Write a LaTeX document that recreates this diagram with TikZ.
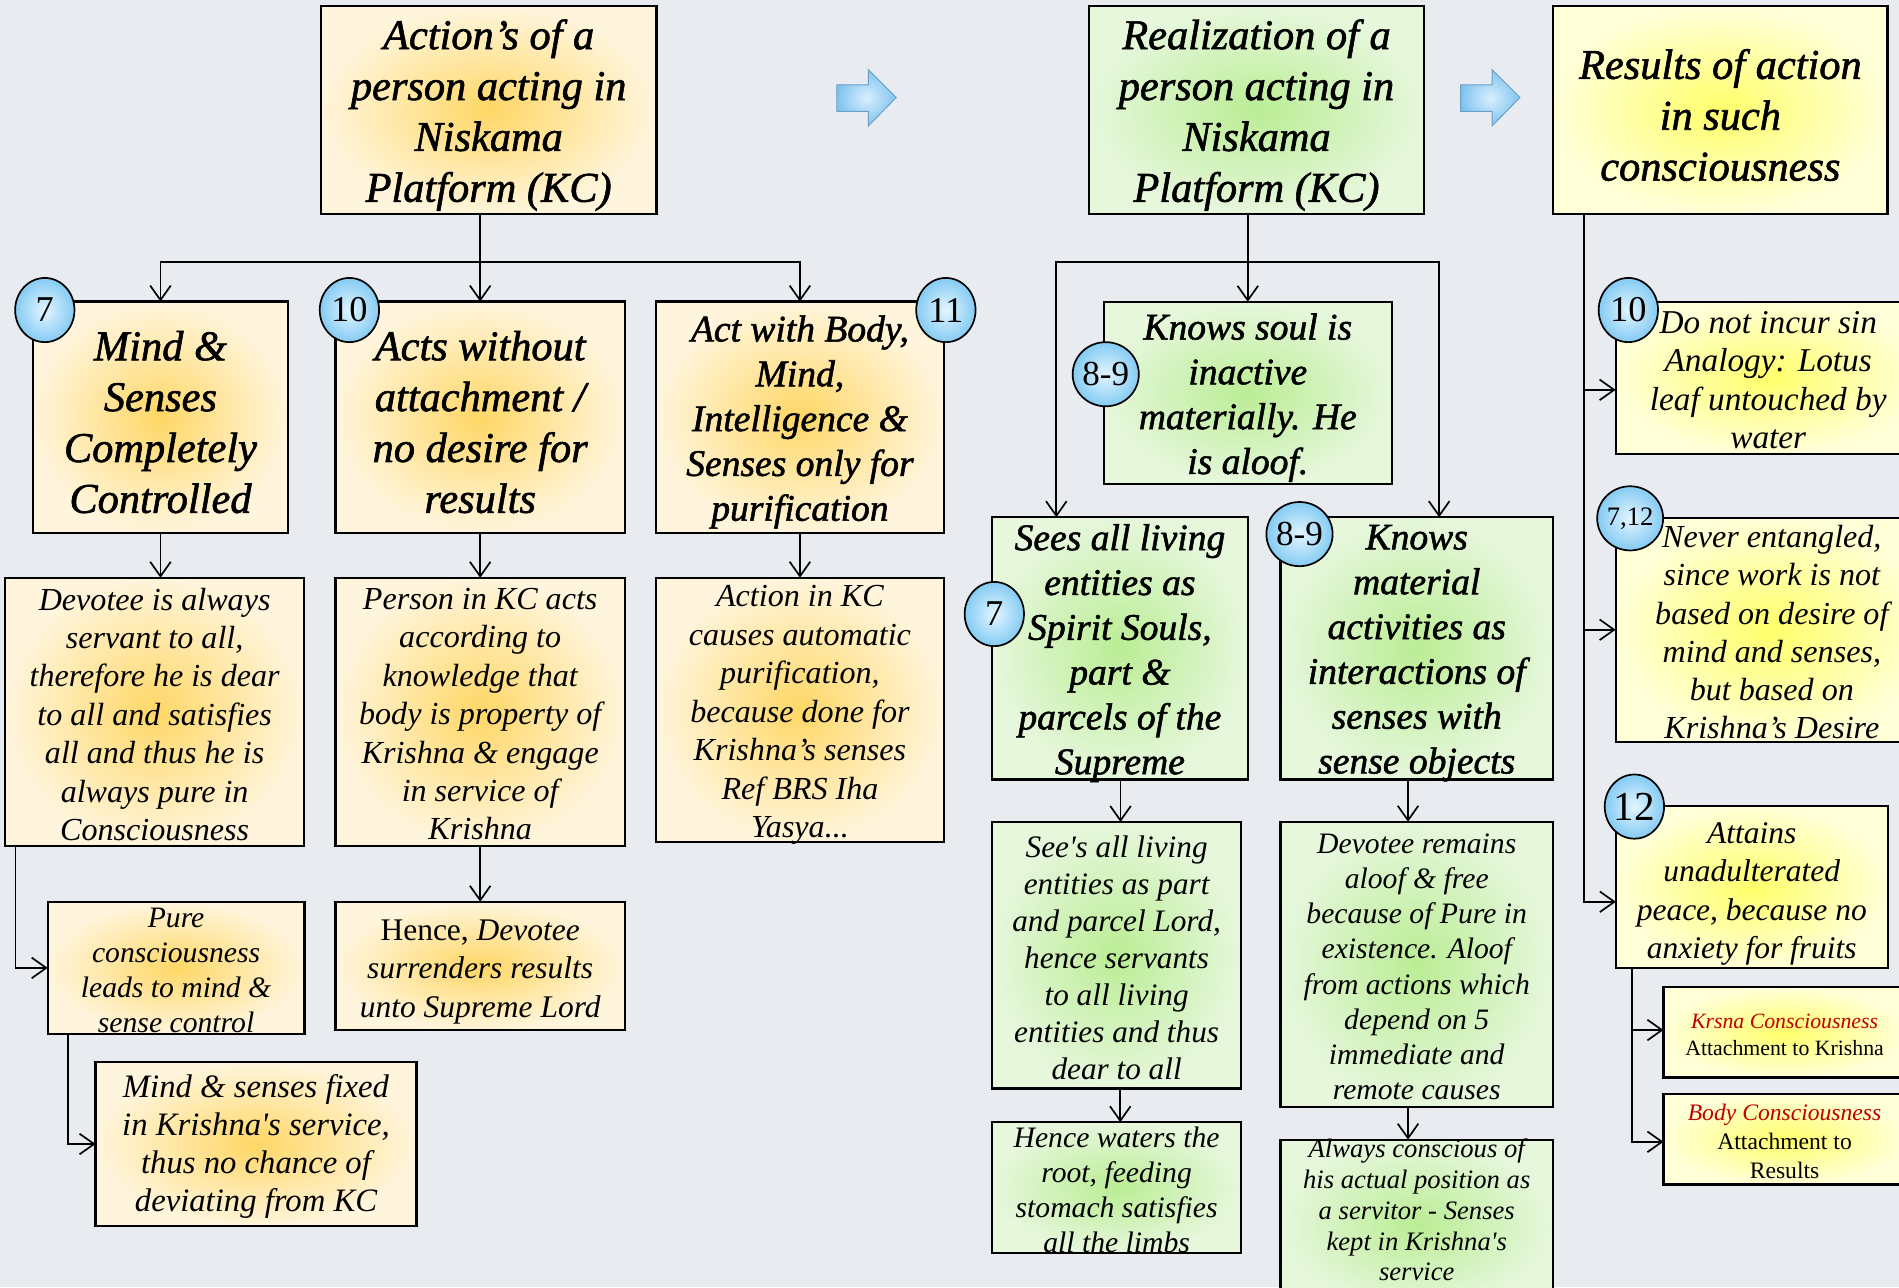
\documentclass[tikz,border=0pt]{standalone}
\usepackage{fontspec}
\setmainfont{Liberation Serif}
\newfontfamily\hdfont{Liberation Serif}[FakeBold=1.4]
\usetikzlibrary{arrows.meta,shapes.geometric}
\definecolor{bgc}{HTML}{E8EBEF}
\definecolor{oin}{HTML}{FFD766}
\definecolor{oout}{HTML}{FFF5DC}
\definecolor{gin}{HTML}{BAED94}
\definecolor{gout}{HTML}{E6F7DC}
\definecolor{yin}{HTML}{FFFF6A}
\definecolor{yout}{HTML}{FFFFD8}
\definecolor{bin}{HTML}{E4F5FF}
\definecolor{bout}{HTML}{84CBF3}
\definecolor{ain}{HTML}{D8EFFD}
\definecolor{aout}{HTML}{80C3EF}
\definecolor{aline}{HTML}{6C9FC6}
\definecolor{kred}{HTML}{C00000}
\newcommand{\fHd}{\hdfont\itshape\fontsize{35}{42}\selectfont}
\newcommand{\fMd}{\hdfont\itshape\fontsize{31}{37}\selectfont}
\newcommand{\fNm}[2]{\itshape\fontsize{#1}{#2}\selectfont}
\newcommand{\sq}{\textquotesingle}
\tikzset{
  bx/.style={draw=black, line width=1.8pt, inner sep=0pt, outer sep=0pt},
  obox/.style={bx, inner color=oin, outer color=oout},
  gbox/.style={bx, inner color=gin, outer color=gout},
  ybox/.style={bx, inner color=yin, outer color=yout},
  tx/.style={align=center, inner sep=0pt, text=black, yshift=-2pt},
  btx/.style={tx, yshift=-2pt},
  badge/.style={ellipse, draw=black, line width=1.4pt, inner sep=0pt,
    minimum width=49pt, minimum height=53pt, inner color=bin, outer color=bout,
    font=\fontsize{30}{30}\selectfont},
  con/.style={draw=black, line width=1.4pt},
  arr/.style={con, -{Straight Barb[length=12pt,width=17pt]}},
  blk/.style={draw=aline, line width=0.8pt, inner color=ain, outer color=aout},
}
\begin{document}
\begin{tikzpicture}[x=1pt,y=-1pt]
\useasboundingbox (0,0) rectangle (1568,1063);
\clip (0,0) rectangle (1568,1063);
\fill[bgc] (0,0) rectangle (1568,1063);

% ---------- headers
\node[obox, minimum width=277pt, minimum height=172pt] (H1) at (403.5,91) {};
\node[btx, font=\fHd] (H1t) at (H1) {Action’s of a\\person acting in\\Niskama\\Platform (KC)};
\node[gbox, minimum width=276pt, minimum height=172pt] (H2) at (1037.5,91) {};
\node[btx, font=\fHd] (H2t) at (H2) {Realization of a\\person acting in\\Niskama\\Platform (KC)};
\node[ybox, minimum width=276pt, minimum height=172pt] (H3) at (1420.5,91) {};
\node[btx, font=\fHd] (H3t) at (H3) {Results of action\\in such\\consciousness};

% block arrows
\draw[blk] (691,70) -- (717,70) -- (717,57.5) -- (740,80.5) -- (717,104) -- (717,92) -- (691,92) -- cycle;
\draw[blk] (1206,70) -- (1232,70) -- (1232,57.5) -- (1255,80.5) -- (1232,104) -- (1232,92) -- (1206,92) -- cycle;

% ---------- column 1
\node[obox, minimum width=211pt, minimum height=191pt] (A) at (132.5,344.5) {};
\node[btx, font=\fHd] (At) at (A) {Mind \&\\Senses\\Completely\\Controlled};
\node[obox, minimum width=239pt, minimum height=191pt] (B) at (396.5,344.5) {};
\node[btx, font=\fHd] (Bt) at (B) {Acts without\\attachment /\\no desire for\\results};
\node[obox, minimum width=238pt, minimum height=191pt] (C) at (660.5,344.5) {};
\node[btx, font=\fMd] (Ct) at (C) {Act with Body,\\Mind,\\Intelligence \&\\Senses only for\\purification};

\node[obox, minimum width=247pt, minimum height=221.5pt] (A2) at (127.7,587.8) {};
\node[tx, font=\fNm{26.5}{31.7}] (A2t) at (A2) {Devotee is always\\servant to all,\\therefore he is dear\\to all and satisfies\\all and thus he is\\always pure in\\Consciousness};
\node[obox, minimum width=239pt, minimum height=221.5pt] (B2) at (396.5,587.8) {};
\node[tx, font=\fNm{26.5}{31.7}] (B2t) at (B2) {Person in KC acts\\according to\\knowledge that\\body is property of\\Krishna \& engage\\in service of\\Krishna};
\node[obox, minimum width=238pt, minimum height=218pt] (C2) at (660.5,586) {};
\node[tx, font=\fNm{26.5}{31.8}, yshift=-2.5pt] (C2t) at (C2) {Action in KC\\causes automatic\\purification,\\because done for\\Krishna’s senses\\Ref BRS Iha\\Yasya...};

\node[obox, minimum width=212pt, minimum height=109pt] (A3) at (145.4,799.2) {};
\node[tx, font=\fNm{24.5}{29}] (A3t) at (A3) {Pure\\consciousness\\leads to mind \&\\sense control};
\node[obox, minimum width=239pt, minimum height=106pt] (B3) at (396.5,797.6) {};
\node[tx, font=\fNm{26}{31.5}, yshift=-3pt] (B3t) at (B3) {{\upshape Hence,} Devotee\\surrenders results\\unto Supreme Lord};
\node[obox, minimum width=265pt, minimum height=136pt] (A4) at (211.4,944.6) {};
\node[tx, font=\fNm{27}{31.5}] (A4t) at (A4) {Mind \& senses fixed\\in Krishna\sq s service,\\thus no chance of\\deviating from KC};

% ---------- column 2
\node[gbox, minimum width=238pt, minimum height=150.4pt] (D) at (1030.3,324.4) {};
\node[btx, font=\fMd] (Dt) at (D) {Knows soul is\\inactive\\materially. He\\is aloof.};
\node[gbox, minimum width=211pt, minimum height=216.5pt] (E) at (924.7,535.3) {};
\node[btx, font=\fMd] (Et) at (E) {Sees all living\\entities as\\Spirit Souls,\\part \&\\parcels of the\\Supreme};
\node[gbox, minimum width=225pt, minimum height=216.5pt] (F) at (1169.8,535.3) {};
\node[btx, font=\fMd] (Ft) at (F) {Knows\\material\\activities as\\interactions of\\senses with\\sense objects};

\node[gbox, minimum width=206pt, minimum height=220pt] (E2) at (922,788.7) {};
\node[tx, font=\fNm{25.8}{30.5}] (E2t) at (E2) {See\sq s all living\\entities as part\\and parcel Lord,\\hence servants\\to all living\\entities and thus\\dear to all};
\node[gbox, minimum width=206pt, minimum height=108pt] (E3) at (922,980.6) {};
\node[tx, font=\fNm{24.5}{29}] (E3t) at (E3) {Hence waters the\\root, feeding\\stomach satisfies\\all the limbs};
\node[gbox, minimum width=225pt, minimum height=235.5pt] (F2) at (1169.8,796.3) {};
\node[tx, font=\fNm{24.5}{29}] (F2t) at (F2) {Devotee remains\\aloof \& free\\because of Pure in\\existence. Aloof\\from actions which\\depend on 5\\immediate and\\remote causes};
\node[gbox, minimum width=225pt, minimum height=140pt] (F3) at (1169.8,1011) {};
\node[tx, font=\fNm{22}{25.5}] (F3t) at (1169.8,997) {Always conscious of\\his actual position as\\a servitor - Senses\\kept in Krishna\sq s\\service};

% ---------- column 3
\node[ybox, minimum width=252pt, minimum height=125.4pt] (G) at (1460,311.9) {};
\node[tx, font=\fNm{27.5}{31.6}] (Gt) at (G) {Do not incur sin\\Analogy: Lotus\\leaf untouched by\\water};
\node[ybox, minimum width=258pt, minimum height=185pt] (H) at (1463,520) {};
\node[tx, font=\fNm{26.5}{31.6}] (Ht) at (H) {Never entangled,\\since work is not\\based on desire of\\mind and senses,\\but based on\\Krishna’s Desire};
\node[ybox, minimum width=224.4pt, minimum height=134pt] (I) at (1446.4,732.3) {};
\node[tx, font=\fNm{26}{31.7}, yshift=-4pt] (It) at (I) {Attains\\unadulterated\\peace, because no\\anxiety for fruits};
\node[ybox, minimum width=200pt, minimum height=74.5pt] (J) at (1473.5,852.5) {};
\node[tx, font=\fontsize{18}{21.7}\selectfont] (Jt) at (J) {{\color{kred}\itshape Krsna Consciousness}\\Attachment to Krishna};
\node[ybox, minimum width=200pt, minimum height=74.5pt] (K) at (1473.5,940.8) {};
\node[tx, font=\fontsize{19.5}{24}\selectfont] (Kt) at (K) {{\color{kred}\itshape Body Consciousness}\\Attachment to\\Results};

% ---------- connectors, tree 1
\coordinate (j1) at (396.5,216.2);
\draw[con] (B.north |- H1.south) -- (j1);
\draw[arr] (j1) -| (A.north);
\draw[arr] (j1) -- (B.north);
\draw[arr] (j1) -| (C.north);
\draw[arr] (A.south) -- (A.south |- A2.north);
\draw[arr] (B.south) -- (B2.north);
\draw[arr] (C.south) -- (C2.north);
\draw[arr] (B2.south) -- (B3.north);
\coordinate (a2o) at ([xshift=8.6pt]A2.south west);
\draw[arr] (a2o) |- (A3.west);
\coordinate (a3o) at ([xshift=17pt]A3.south west);
\draw[arr] (a3o) |- (A4.west);

% tree 2
\coordinate (j2) at (1030.3,216.2);
\draw[con] (D.north |- H2.south) -- (j2);
\draw[arr] (j2) -- (D.north);
\coordinate (eN) at ([xshift=53pt]E.north west);
\draw[arr] (j2) -| (eN);
\coordinate (fN) at ([xshift=131pt]F.north west);
\draw[arr] (j2) -| (fN);
\coordinate (eS) at ([xshift=106pt]E.south west);
\draw[arr] (eS) -- (eS |- E2.north);
\coordinate (e2S) at ([xshift=106pt]E2.south west);
\draw[arr] (e2S) -- (e2S |- E3.north);
\coordinate (fS) at ([xshift=105.3pt]F.south west);
\draw[arr] (fS) -- (fS |- F2.north);
\coordinate (f2S) at ([xshift=105.3pt]F2.south west);
\draw[arr] (f2S) -- (f2S |- F3.north);

% tree 3
\coordinate (t3) at ([xshift=25.5pt]H3.south west);
\draw[arr] (t3) |- ([yshift=-12.3pt]I.west);
\draw[arr] (t3) |- ([yshift=-10pt]G.west);
\draw[arr] (t3) |- (H.west);
\coordinate (t4) at ([xshift=13.5pt]I.south west);
\draw[arr] (t4) |- ([yshift=2pt]J.west);
\draw[arr] (t4) |- ([yshift=-2pt]K.west);

% ---------- badges
\node[badge] (b7a) at (37,256) {7};
\node[badge] (b10a) at (288.5,256) {10};
\node[badge] (b11) at (781,256) {11};
\node[badge, font=\fontsize{29}{29}\selectfont] (b89d) at (913,309) {8-9};
\node[badge] (b7e) at (821,507) {7};
\node[badge, font=\fontsize{29}{29}\selectfont] (b89f) at (1073,441) {8-9};
\node[badge] (b10g) at (1344.5,256) {10};
\node[badge, font=\fontsize{22}{22}\selectfont] (b712) at (1346,428) {7,12};
\node[badge, font=\fontsize{34}{34}\selectfont] (b12) at (1349.5,666) {12};
\end{tikzpicture}
\end{document}
